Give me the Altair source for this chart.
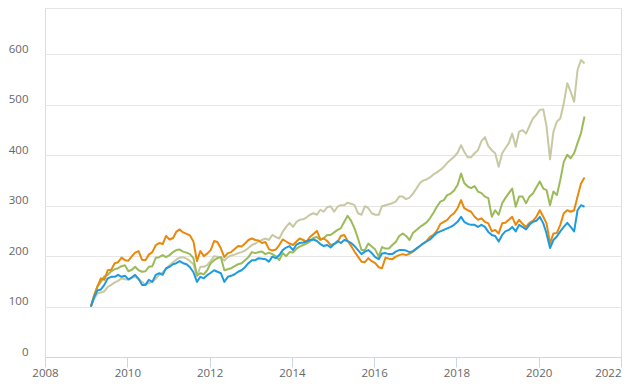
import altair as alt
import pandas as pd

# monthly observations, Feb 2009 .. Feb 2021
months = pd.date_range("2009-02-01", periods=145, freq="MS") + pd.Timedelta(days=10)
dates = [d.strftime("%Y-%m-%d") for d in months]

series_names = ["Series A", "Series B", "Series C", "Series D"]
series_colors = ["#c8c9a3", "#9bbb59", "#e8890c", "#1e9be0"]

beige = [100,115,126,128,130,139,143,148,151,156,
         154,153,157,159,154,149,143,146,150,155,
         163,168,175,182,188,193,197,198,195,190,
         184,160,179,179,182,190,200,199,198,191,
         198,201,203,206,208,211,216,222,225,229,
         232,235,232,242,238,235,248,258,266,258,
         268,272,273,277,282,285,282,292,288,297,
         299,288,298,301,301,306,304,301,285,282,
         299,295,285,282,282,299,301,303,305,308,
         318,318,313,316,324,334,345,350,352,356,
         362,366,371,377,385,391,397,405,420,407,
         396,396,404,410,428,436,418,410,404,377,
         404,414,424,443,417,447,450,443,458,473,
         480,490,491,457,392,447,467,473,503,543,
         526,506,569,589,582]

green = [100,122,140,149,160,163,170,174,176,180,
         182,170,173,179,172,169,170,179,180,197,
         198,202,198,202,208,212,213,209,207,204,
         196,162,166,164,172,186,192,196,198,172,
         174,176,180,184,186,192,198,208,206,208,
         209,204,207,204,200,192,206,200,208,207,
         215,219,222,225,229,236,238,232,236,242,
         242,247,252,255,268,280,270,255,235,212,
         212,225,219,213,199,218,215,215,222,228,
         240,245,240,232,246,252,258,262,267,275,
         286,298,308,311,321,324,330,341,364,345,
         338,335,339,328,325,318,315,278,291,282,
         305,315,325,334,298,318,318,305,318,324,
         336,348,334,331,301,328,321,351,387,401,
         394,404,424,444,477]

orange = [100,120,140,156,153,172,173,186,188,197,
          192,191,200,207,210,193,192,203,208,222,
          226,224,240,233,236,248,253,247,244,241,
          229,190,210,200,205,212,230,228,215,198,
          206,208,214,220,219,225,232,235,232,231,
          226,228,214,211,213,222,233,229,225,222,
          229,235,232,229,238,244,250,233,235,230,
          222,224,228,240,242,230,220,209,199,189,
          188,196,190,186,178,176,197,195,194,199,
          202,204,202,205,209,215,220,225,230,238,
          242,250,264,268,272,280,285,295,311,295,
          291,288,278,272,275,268,265,249,252,245,
          265,266,272,278,262,272,264,258,266,270,
          278,291,278,265,225,245,246,262,285,291,
          288,291,318,344,356]

blue = [100,118,132,134,143,156,159,159,163,159,
        161,154,158,163,155,143,143,153,149,163,
        166,163,176,179,184,186,190,186,184,178,
        168,149,159,156,162,167,172,169,166,149,
        159,161,164,169,172,178,186,192,192,196,
        195,194,189,199,196,202,212,217,220,212,
        223,226,227,229,232,233,230,224,220,222,
        217,224,230,226,232,230,226,220,212,204,
        209,212,206,198,194,205,206,204,204,209,
        212,212,211,208,210,215,220,225,229,233,
        240,246,249,252,255,258,262,268,278,268,
        264,262,262,258,262,258,248,242,240,229,
        242,249,252,258,249,262,258,253,262,268,
        270,278,265,245,216,232,239,249,258,266,
        258,249,291,301,298]

y_ticks = [0, 100, 200, 300, 400, 500, 600, 692]
x_tick_years = [2008, 2010, 2012, 2014, 2016, 2018, 2020, 2022]

all_values = [beige, green, orange, blue]
frames = []
for name, vals in zip(series_names, all_values):
    frames.append(pd.DataFrame({"date": dates, "value": vals, "series": name}))
df = pd.concat(frames, ignore_index=True)

label_color = "#666666"
font = "Open Sans"

x_enc = alt.X(
    "date:T",
    scale=alt.Scale(domain=[alt.DateTime(year=2008, month=1, date=1),
                            alt.DateTime(year=2022, month=1, date=1)]),
    axis=alt.Axis(
        values=[alt.DateTime(year=y, month=1, date=1) for y in x_tick_years],
        format="%Y", title=None, grid=False,
        domainColor="#ccd6eb", tickColor="#ccd6eb", tickSize=10,
        labelPadding=0, labelColor=label_color, labelFontSize=11.5,
        labelFont=font, labelFlush=False, labelOverlap=False,
        labelAlign=alt.expr("year(datum.value) >= 2022 ? 'right' : 'center'"),
    ),
)
y_enc = alt.Y(
    "value:Q",
    scale=alt.Scale(domain=[0, 692], nice=False, zero=True),
    axis=alt.Axis(
        values=y_ticks, title=None, domain=False, ticks=False, tickSize=0,
        labelExpr="datum.value > 650 ? '' : datum.label",
        labelPadding=17, labelColor=label_color, labelFontSize=11.5,
        labelFont=font, labelBaseline="alphabetic", labelOffset=-2,
        gridColor="#e6e6e6", gridWidth=1,
    ),
)

layers = []
for name, col in zip(series_names, series_colors):
    layers.append(
        alt.Chart(df)
        .transform_filter(alt.datum.series == name)
        .mark_line(color=col, strokeWidth=2, strokeJoin="round")
        .encode(x=x_enc, y=y_enc)
    )

chart = (
    alt.layer(*layers)
    .properties(
        width=576, height=349,
        padding={"left": 37, "top": 0, "right": 5, "bottom": 30},
        autosize=alt.AutoSizeParams(type="none"),
    )
    .configure_view(stroke=None)
    .configure(font=font)
)

chart.save("out.html", embed_options={"renderer": "svg", "actions": False})
